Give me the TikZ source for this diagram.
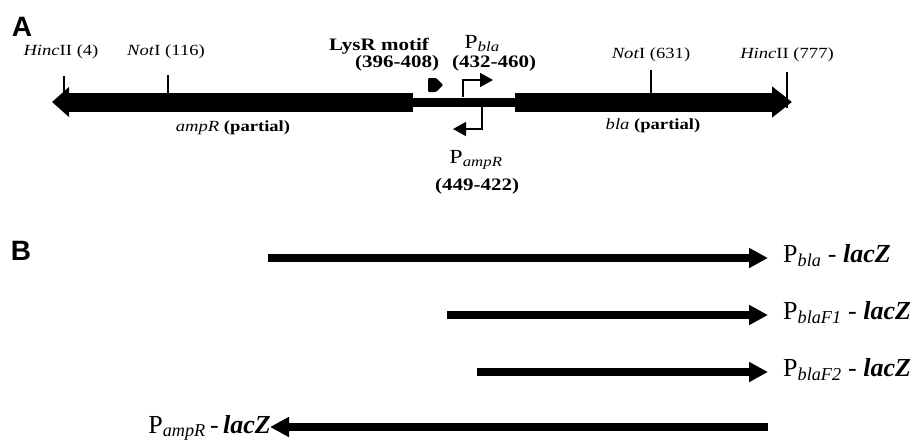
\documentclass[tikz,border=0pt]{standalone}
\usepackage{fontspec}
\setmainfont{Liberation Serif}
\newfontfamily\topfont[FakeStretch=1.2]{Liberation Serif}
\newfontfamily\panelfont{Liberation Sans}
\usetikzlibrary{arrows.meta}
\begin{document}
\begin{tikzpicture}[x=1pt,y=-1pt,
  panel/.style={font=\panelfont\bfseries\fontsize{28}{30}\selectfont, inner sep=0pt},
  site/.style={font=\topfont\fontsize{15.5}{18}\selectfont, inner sep=0pt, anchor=base},
  boldlab/.style={font=\topfont\bfseries\fontsize{17.5}{19}\selectfont, inner sep=0pt, anchor=base},
  plab/.style={font=\topfont\fontsize{20}{22}\selectfont, inner sep=0pt, anchor=base},
  fuslab/.style={font=\fontsize{26}{28}\selectfont, inner sep=0pt},
  gene/.style={line width=19pt},
  spacer/.style={line width=9pt},
  tickline/.style={line width=1.4pt},
  prom/.style={line width=1.6pt, -{Triangle[length=13pt,width=14pt]}},
  frag/.style={line width=8.5pt, -{Triangle[length=19pt,width=19pt]}}
]
\useasboundingbox (0,0) rectangle (915,440);

% ---------- Panel A ----------
\node[panel] (A) at (22,27) {A};

\coordinate (ampRtip) at (52,102);
\coordinate (ampRend) at (413,102);
\coordinate (blaStart) at (515,102);
\coordinate (blaTip) at (792,102);

\draw[spacer] (ampRend) -- (blaStart);
\draw[gene, -{Triangle[length=17pt,width=29pt]}] (ampRend) -- (ampRtip);
\draw[gene, -{Triangle[length=20pt,width=30pt]}] (blaStart) -- (blaTip);

% restriction sites
\coordinate (t1a) at (64,76);   \coordinate (t1b) at (64,94);
\coordinate (t2a) at (168,75);  \coordinate (t2b) at (168,94);
\coordinate (t3a) at (651,70);  \coordinate (t3b) at (651,94);
\coordinate (t4a) at (787,72);  \coordinate (t4b) at (787,108);
\draw[tickline] (t1a) -- (t1b);
\draw[tickline] (t2a) -- (t2b);
\draw[tickline] (t3a) -- (t3b);
\draw[tickline] (t4a) -- (t4b);

\node[site] (h1) at (61,55) {\textit{Hinc}II (4)};
\node[site] (n1) at (166,55) {\textit{Not}I (116)};
\node[site] (n2) at (651,58) {\textit{Not}I (631)};
\node[site] (h2) at (787,58) {\textit{Hinc}II (777)};

\node[site] (ampRlab) at (233,131) {\textit{ampR} \textbf{(partial)}};
\node[site] (blalab) at (653,129) {\textit{bla} \textbf{(partial)}};

% LysR motif
\fill[rounded corners=1pt] (428,78) -- (436,78) -- (443,85) -- (436,92) -- (428,92) -- cycle;
\node[boldlab] (lysr) at (379,50) {LysR motif};
\node[boldlab] (lysrpos) at (397,67) {(396-408)};

% promoters
\coordinate (pblaS) at (463,97);
\coordinate (pblaT) at (493,80);
\coordinate (pampS) at (482,106);
\coordinate (pampT) at (453,129);
\draw[prom] (pblaS) |- (pblaT);
\draw[prom] (pampS) |- (pampT);

\node[plab] (pbla) at (482,48) {P\textsubscript{\textit{bla}}};
\node[boldlab] (pblapos) at (494,67) {(432-460)};
\node[plab] (pamp) at (476,163) {P\textsubscript{\textit{ampR}}};
\node[boldlab] (pamppos) at (477,190) {(449-422)};

% ---------- Panel B ----------
\node[panel] (B) at (21,251) {B};

\coordinate (f1s) at (268,258);  \coordinate (f1e) at (768,258);
\coordinate (f2s) at (447,315);  \coordinate (f2e) at (768,315);
\coordinate (f3s) at (477,372);  \coordinate (f3e) at (768,372);
\coordinate (f4s) at (768,427);  \coordinate (f4e) at (270,427);
\draw[frag] (f1s) -- (f1e);
\draw[frag] (f2s) -- (f2e);
\draw[frag] (f3s) -- (f3e);
\draw[frag] (f4s) -- (f4e);

\node[fuslab, anchor=base west] (l1) at (783,262) {P\textsubscript{\textit{bla}} - \textbf{\textit{lacZ}}};
\node[fuslab, anchor=base west] (l2) at (783,319) {P\textsubscript{\textit{blaF1}} - \textbf{\textit{lacZ}}};
\node[fuslab, anchor=base west] (l3) at (783,376) {P\textsubscript{\textit{blaF2}} - \textbf{\textit{lacZ}}};
\node[fuslab, anchor=base east] (l4) at (271,433) {P\textsubscript{\textit{ampR}}\,-\,\textbf{\textit{lacZ}}};
\end{tikzpicture}
\end{document}
